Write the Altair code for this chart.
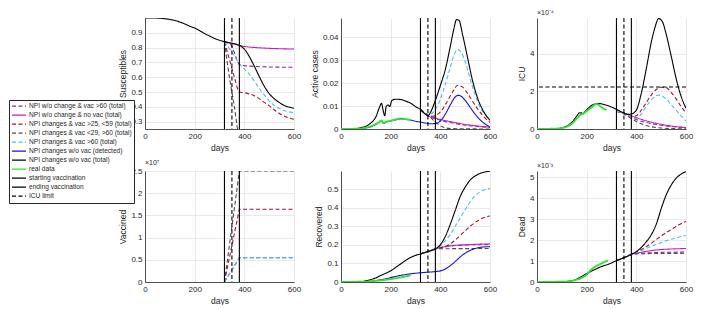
import altair as alt
import pandas as pd

SERIES = [
    "NPI w/o change & vac >60 (total)",
    "NPI w/o change & no vac (total)",
    "NPI changes & vac >25, <59 (total)",
    "NPI changes & vac <29, >60 (total)",
    "NPI changes & vac >60 (total)",
    "NPI changes w/o vac (detected)",
    "NPI changes w/o vac (total)",
    "real data",
    "starting vaccination",
    "ending vaccination",
    "ICU limit",
]
COLORS = ["#8C2A8C", "#C41CC4", "#A2142F", "#4D4D4D", "#4DBEEE", "#1414D2",
          "#000000", "#33E033", "#000000", "#000000", "#000000"]
DASHES = [[4, 2.5], [1, 0], [4, 2.5], [4, 2.5], [4, 2.5], [1, 0], [1, 0], [1, 0],
          [1, 0], [1, 0], [4, 2.5]]
S_PUR, S_MAG, S_RED, S_GRY, S_CYA, S_BLU, S_BLK, S_GRN = SERIES[:8]

vac_start_day = [320]
vac_end_day = [380]
npi_change_day = [350]
icu_limit = [2.23]

# ---------------- Susceptibles ----------------
sus_days_total = [0, 40, 80, 100, 120, 140, 160, 180, 200, 220, 240, 260, 280, 300, 320, 340, 360, 380,
                  400, 420, 440, 460, 480, 500, 520, 540, 560, 580, 600]
sus_total = [1.0, 1.0, 0.995, 0.99, 0.983, 0.973, 0.96, 0.945, 0.932, 0.915, 0.895, 0.878, 0.862, 0.85,
             0.84, 0.832, 0.826, 0.815, 0.79, 0.74, 0.675, 0.605, 0.54, 0.49, 0.455, 0.43, 0.41, 0.398, 0.39]
sus_days_novac = [320, 350, 380, 400, 450, 500, 550, 600]
sus_novac = [0.84, 0.829, 0.815, 0.808, 0.8, 0.795, 0.792, 0.79]
sus_days_vac60 = [320, 350, 365, 380, 400, 450, 500, 600]
sus_vac60 = [0.84, 0.81, 0.74, 0.685, 0.678, 0.672, 0.669, 0.667]
sus_days_cyan = [320, 350, 380, 400, 420, 440, 460, 480, 500, 520, 540, 560, 580, 600]
sus_cyan = [0.84, 0.77, 0.69, 0.655, 0.62, 0.575, 0.525, 0.48, 0.44, 0.41, 0.39, 0.375, 0.366, 0.36]
sus_days_red = [320, 340, 360, 380, 400, 420, 440, 460, 480, 500, 520, 540, 560, 580, 600]
sus_red = [0.84, 0.72, 0.6, 0.5, 0.495, 0.487, 0.475, 0.455, 0.43, 0.408, 0.38, 0.357, 0.338, 0.325, 0.316]
sus_days_gray = [320, 340, 360, 380, 400, 600]
sus_gray = [0.84, 0.6, 0.4, 0.2, 0.19, 0.18]

# ---------------- Active cases ----------------
act_days_total = [0, 60, 80, 100, 120, 140, 155, 163, 170, 176, 182, 190, 196, 205, 220, 240, 260, 280, 300,
                  320, 340, 350, 360, 380, 400, 420, 440, 455, 465, 475, 490, 510, 530, 550, 570, 600]
act_total = [0, 0.0002, 0.0006, 0.0012, 0.0026, 0.0052, 0.0095, 0.0112, 0.008, 0.0058, 0.0098, 0.0105,
             0.0098, 0.0125, 0.013, 0.0129, 0.0122, 0.0113, 0.0098, 0.0085, 0.0065, 0.0058, 0.0072,
             0.0125, 0.019, 0.026, 0.036, 0.044, 0.0478, 0.0475, 0.041, 0.031, 0.021, 0.0135, 0.0085, 0.0038]
act_days_det = [0, 80, 100, 120, 140, 155, 163, 172, 180, 200, 220, 240, 260, 280, 300, 320, 340, 360, 380,
                400, 420, 440, 460, 472, 485, 500, 520, 540, 560, 580, 600]
act_det = [0, 0.0002, 0.0005, 0.001, 0.002, 0.003, 0.0034, 0.0024, 0.003, 0.0035, 0.004, 0.0044, 0.0042,
           0.0039, 0.0034, 0.003, 0.0026, 0.0023, 0.0024, 0.0035, 0.0065, 0.0105, 0.014, 0.0147, 0.0142,
           0.0125, 0.0095, 0.0065, 0.004, 0.0022, 0.001]
act_days_real = [0, 80, 100, 120, 140, 155, 163, 170, 180, 200, 220, 240, 260, 280]
act_real = [0, 0.0002, 0.0006, 0.0012, 0.0022, 0.0031, 0.0037, 0.0026, 0.0031, 0.0036, 0.0042, 0.0046,
            0.0043, 0.004]
act_days_cyan = [320, 340, 350, 360, 380, 400, 420, 440, 460, 470, 480, 500, 520, 540, 560, 580, 600]
act_cyan = [0.0085, 0.0065, 0.0058, 0.0063, 0.0085, 0.013, 0.0195, 0.027, 0.0335, 0.0348, 0.034, 0.0295,
            0.022, 0.015, 0.0095, 0.0062, 0.004]
act_days_red = [320, 340, 350, 370, 390, 410, 430, 450, 470, 490, 510, 530, 550, 570, 600]
act_red = [0.0085, 0.0065, 0.0058, 0.0056, 0.0065, 0.0088, 0.0125, 0.0163, 0.0191, 0.0183, 0.0155, 0.012,
           0.0088, 0.006, 0.0028]
act_days_novac = [320, 340, 350, 380, 400, 450, 500, 550, 600]
act_novac = [0.0085, 0.0065, 0.0058, 0.0048, 0.0042, 0.003, 0.002, 0.0013, 0.0008]
act_days_vac60 = [320, 340, 350, 380, 400, 450, 500, 550, 600]
act_vac60 = [0.0085, 0.0065, 0.0058, 0.0045, 0.0038, 0.0026, 0.0017, 0.0011, 0.0007]
act_days_gray = [320, 350, 380, 410, 440, 600]
act_gray = [0.0085, 0.0062, 0.003, 0.0009, 0.0002, 0.0]

# ---------------- ICU (x1e-4) ----------------
icu_days_total = [0, 80, 100, 120, 140, 158, 170, 178, 185, 195, 210, 230, 250, 270, 300, 330, 350, 365, 380,
                  400, 420, 440, 460, 475, 490, 505, 520, 540, 560, 580, 600]
icu_total = [0, 0.02, 0.06, 0.16, 0.35, 0.65, 0.85, 0.86, 0.82, 0.95, 1.15, 1.32, 1.35, 1.3, 1.17, 0.98,
             0.85, 0.78, 0.8, 1.0, 1.9, 3.2, 4.6, 5.4, 5.87, 5.7, 5.05, 3.9, 2.7, 1.75, 1.1]
icu_days_real = [0, 80, 100, 120, 140, 160, 175, 185, 200, 220, 240, 260, 280]
icu_real = [0, 0.02, 0.05, 0.12, 0.28, 0.55, 0.75, 0.8, 0.95, 1.15, 1.33, 1.15, 1.0]
icu_days_novac = [320, 350, 380, 400, 450, 500, 550, 600]
icu_novac = [0.95, 0.85, 0.7, 0.6, 0.4, 0.25, 0.14, 0.08]
icu_days_vac60 = [320, 350, 380, 400, 450, 500, 550, 600]
icu_vac60 = [0.95, 0.85, 0.62, 0.5, 0.32, 0.2, 0.12, 0.07]
icu_days_gray = [320, 350, 380, 400, 450, 500, 550, 600]
icu_gray = [0.95, 0.8, 0.55, 0.4, 0.15, 0.05, 0.02, 0.01]
icu_days_cyan = [320, 350, 380, 400, 420, 440, 460, 480, 490, 500, 520, 540, 560, 580, 600]
icu_cyan = [0.95, 0.85, 0.65, 0.55, 0.8, 1.2, 1.55, 1.77, 1.8, 1.77, 1.6, 1.3, 1.0, 0.7, 0.42]
icu_days_red = [320, 350, 380, 400, 420, 440, 460, 480, 500, 520, 540, 560, 580, 600]
icu_red = [0.95, 0.85, 0.65, 0.7, 1.0, 1.4, 1.8, 2.1, 2.22, 2.2, 1.95, 1.6, 1.2, 0.86]

# ---------------- Vaccined (x1e7) ----------------
vac_days = [320, 380, 600]
vac_gray = [0, 2.5, 2.5]
vac_red = [0, 1.64, 1.64]
vac_cyan = [0, 0.55, 0.55]
vac_vac60 = [0, 0.55, 0.55]

# ---------------- Recovered ----------------
rec_days_total = [0, 80, 100, 120, 140, 160, 180, 200, 220, 240, 260, 280, 300, 320, 340, 360, 380, 400,
                  420, 440, 460, 480, 500, 520, 540, 560, 580, 600]
rec_total = [0, 0.002, 0.006, 0.013, 0.022, 0.035, 0.047, 0.06, 0.078, 0.097, 0.116, 0.132, 0.143, 0.151,
             0.16, 0.168, 0.178, 0.2, 0.245, 0.31, 0.385, 0.46, 0.51, 0.548, 0.57, 0.584, 0.592, 0.596]
rec_days_det = [0, 100, 140, 180, 220, 260, 300, 340, 380, 400, 420, 440, 460, 480, 500, 520, 540, 560, 580, 600]
rec_det = [0, 0.002, 0.008, 0.017, 0.03, 0.04, 0.047, 0.052, 0.056, 0.06, 0.07, 0.088, 0.11, 0.135, 0.155,
           0.17, 0.18, 0.186, 0.189, 0.19]
rec_days_real = [0, 100, 140, 180, 220, 250, 280]
rec_real = [0, 0.002, 0.006, 0.012, 0.02, 0.027, 0.036]
rec_days_cyan = [320, 350, 380, 400, 420, 440, 460, 480, 500, 520, 540, 560, 580, 600]
rec_cyan = [0.151, 0.164, 0.178, 0.195, 0.222, 0.255, 0.3, 0.345, 0.39, 0.43, 0.465, 0.485, 0.496, 0.502]
rec_days_red = [320, 350, 380, 420, 440, 460, 480, 500, 520, 540, 560, 580, 600]
rec_red = [0.151, 0.164, 0.178, 0.19, 0.205, 0.225, 0.25, 0.275, 0.3, 0.32, 0.337, 0.348, 0.355]
rec_days_novac = [320, 350, 380, 420, 460, 500, 550, 600]
rec_novac = [0.151, 0.164, 0.178, 0.19, 0.197, 0.2, 0.203, 0.205]
rec_days_vac60 = [320, 350, 380, 420, 460, 500, 600]
rec_vac60 = [0.151, 0.164, 0.178, 0.19, 0.196, 0.199, 0.202]
rec_days_gray = [320, 350, 380, 420, 600]
rec_gray = [0.151, 0.164, 0.178, 0.179, 0.18]

# ---------------- Dead (x1e-3) ----------------
dead_days_total = [0, 100, 130, 150, 170, 200, 230, 260, 290, 320, 350, 380, 400, 420, 440, 460, 480, 500,
                   520, 540, 560, 580, 600]
dead_total = [0, 0.01, 0.04, 0.09, 0.2, 0.4, 0.58, 0.74, 0.86, 1.02, 1.16, 1.32, 1.45, 1.65, 1.92, 2.25,
              2.75, 3.5, 4.15, 4.62, 4.95, 5.15, 5.27]
dead_days_real = [0, 120, 150, 180, 200, 215, 230, 250, 270, 285]
dead_real = [0, 0.02, 0.08, 0.2, 0.35, 0.55, 0.7, 0.83, 0.95, 1.03]
dead_days_cyan = [320, 350, 380, 420, 460, 500, 540, 570, 600]
dead_cyan = [1.02, 1.16, 1.32, 1.5, 1.7, 1.88, 2.04, 2.14, 2.22]
dead_days_red = [320, 350, 380, 420, 460, 500, 540, 570, 600]
dead_red = [1.02, 1.16, 1.32, 1.55, 1.85, 2.2, 2.5, 2.72, 2.9]
dead_days_novac = [320, 350, 380, 420, 460, 500, 550, 600]
dead_novac = [1.02, 1.16, 1.32, 1.42, 1.5, 1.55, 1.58, 1.6]
dead_days_vac60 = [320, 350, 380, 420, 460, 600]
dead_vac60 = [1.02, 1.16, 1.32, 1.37, 1.4, 1.43]
dead_days_gray = [320, 350, 380, 420, 600]
dead_gray = [1.02, 1.16, 1.32, 1.35, 1.37]

FONT = "Liberation Sans"
TXT = "#262626"
W, H = 149, 111

LEGEND = alt.Legend(
    title=None, orient="none", legendX=-136, legendY=82,
    symbolType="stroke", symbolSize=196, symbolStrokeWidth=1.1,
    labelFontSize=6.6, labelFont=FONT, labelColor=TXT, labelOffset=2,
    strokeColor=TXT, fillColor="white", padding=2, rowPadding=0, clipHeight=8.2,
    labelLimit=300,
)


def frame(parts):
    rows = []
    for name, days, vals in parts:
        for d, v in zip(days, vals):
            rows.append({"day": d, "value": v, "series": name})
    return pd.DataFrame(rows)


def panel(parts, ytitle, ydomain, yticks, exponent=None, with_icu=False, interp="monotone"):
    df = frame(parts)
    color = alt.Color("series:N", scale=alt.Scale(domain=SERIES, range=COLORS), legend=LEGEND)
    dash = alt.StrokeDash("series:N", scale=alt.Scale(domain=SERIES, range=DASHES), legend=LEGEND)
    x = alt.X("day:Q", scale=alt.Scale(domain=[0, 600], nice=False),
              axis=alt.Axis(values=[0, 200, 400, 600], title="days"))
    y = alt.Y("value:Q", scale=alt.Scale(domain=ydomain, nice=False, zero=False),
              axis=alt.Axis(values=yticks, title=ytitle, format="~g"))
    lines = alt.Chart(df).mark_line(clip=True, interpolate=interp).encode(
        x=x, y=y, color=color, strokeDash=dash,
        strokeWidth=alt.condition(alt.datum.series == S_GRN, alt.value(1.9), alt.value(1.1)),
    )
    vdf = pd.DataFrame({"day": vac_start_day + vac_end_day,
                        "series": ["starting vaccination"] * len(vac_start_day) + ["ending vaccination"] * len(vac_end_day)})
    vrules = alt.Chart(vdf).mark_rule(strokeWidth=1.1).encode(x="day:Q", color=color, strokeDash=dash)
    npi = alt.Chart(pd.DataFrame({"day": npi_change_day})).mark_rule(
        color="black", strokeDash=[4, 2.5], strokeWidth=1.1).encode(x="day:Q")
    layers = [lines, vrules, npi]
    if with_icu:
        idf = pd.DataFrame({"value": icu_limit, "series": ["ICU limit"] * len(icu_limit)})
        layers.append(alt.Chart(idf).mark_rule(strokeWidth=1.1).encode(y="value:Q", color=color, strokeDash=dash))
    ch = alt.layer(*layers).properties(width=W, height=H)
    if exponent:
        ch = ch.properties(title=alt.TitleParams(exponent, anchor="start", frame="group", fontSize=7,
                                                 fontWeight="normal", font=FONT, color=TXT, offset=1))
    return ch


p_sus = panel([
    (S_PUR, sus_days_vac60, sus_vac60), (S_MAG, sus_days_novac, sus_novac), (S_RED, sus_days_red, sus_red),
    (S_GRY, sus_days_gray, sus_gray), (S_CYA, sus_days_cyan, sus_cyan), (S_BLK, sus_days_total, sus_total),
], "Susceptibles", [0.25, 1.0], [0.3, 0.4, 0.5, 0.6, 0.7, 0.8, 0.9])

p_act = panel([
    (S_PUR, act_days_vac60, act_vac60), (S_MAG, act_days_novac, act_novac), (S_RED, act_days_red, act_red),
    (S_GRY, act_days_gray, act_gray), (S_CYA, act_days_cyan, act_cyan), (S_BLU, act_days_det, act_det),
    (S_BLK, act_days_total, act_total), (S_GRN, act_days_real, act_real),
], "Active cases", [0, 0.0485], [0, 0.01, 0.02, 0.03, 0.04])

p_icu = panel([
    (S_PUR, icu_days_vac60, icu_vac60), (S_MAG, icu_days_novac, icu_novac), (S_RED, icu_days_red, icu_red),
    (S_GRY, icu_days_gray, icu_gray), (S_CYA, icu_days_cyan, icu_cyan), (S_BLK, icu_days_total, icu_total),
    (S_GRN, icu_days_real, icu_real),
], "ICU", [0, 5.9], [0, 1, 2, 3, 4, 5], exponent="×10⁻⁴", with_icu=True)

p_vac = panel([
    (S_PUR, vac_days, vac_vac60), (S_RED, vac_days, vac_red), (S_GRY, vac_days, vac_gray),
    (S_CYA, vac_days, vac_cyan),
], "Vaccined", [0, 2.5], [0, 0.5, 1, 1.5, 2, 2.5], exponent="×10⁷", interp="linear")

p_rec = panel([
    (S_PUR, rec_days_vac60, rec_vac60), (S_MAG, rec_days_novac, rec_novac), (S_RED, rec_days_red, rec_red),
    (S_GRY, rec_days_gray, rec_gray), (S_CYA, rec_days_cyan, rec_cyan), (S_BLU, rec_days_det, rec_det),
    (S_BLK, rec_days_total, rec_total), (S_GRN, rec_days_real, rec_real),
], "Recovered", [0, 0.597], [0, 0.1, 0.2, 0.3, 0.4, 0.5])

p_dead = panel([
    (S_PUR, dead_days_vac60, dead_vac60), (S_MAG, dead_days_novac, dead_novac), (S_RED, dead_days_red, dead_red),
    (S_GRY, dead_days_gray, dead_gray), (S_CYA, dead_days_cyan, dead_cyan), (S_BLK, dead_days_total, dead_total),
    (S_GRN, dead_days_real, dead_real),
], "Dead", [0, 5.3], [0, 1, 2, 3, 4, 5], exponent="×10⁻³")

chart = alt.concat(
    p_sus, p_act, p_icu, p_vac, p_rec, p_dead,
    columns=3, spacing={"row": 42, "column": 47}, bounds="flush",
).resolve_scale(
    color="shared", strokeDash="shared"
).properties(padding=0).configure_view(stroke="transparent").configure_axis(
    domainColor=TXT, domainWidth=0.8, gridColor="#E0E0E0", gridWidth=0.7, ticks=False,
    labelFont=FONT, labelFontSize=8, labelColor=TXT, labelPadding=3,
    titleFont=FONT, titleFontSize=8.5, titleFontWeight="normal", titleColor=TXT, titlePadding=3,
    labelFlush=False,
)

chart.save("out.html", embed_options={"renderer": "svg", "actions": False})
